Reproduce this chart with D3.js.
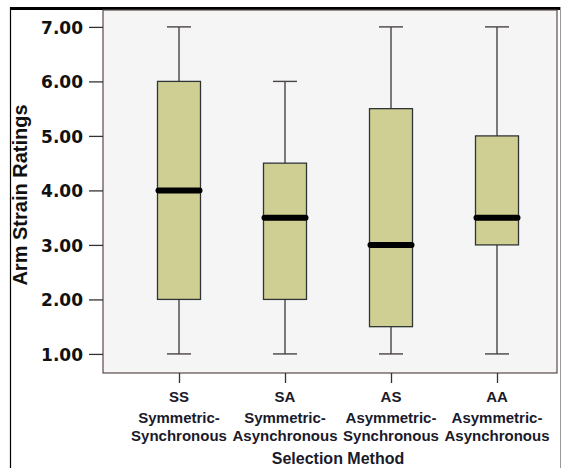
<!DOCTYPE html>
<html>
<head>
<meta charset="utf-8">
<script src="https://cdn.jsdelivr.net/npm/d3@7"></script>
<style>
  body { margin: 0; background: #fff; }
  svg { display: block; }
</style>
</head>
<body>
<div id="chart"></div>
<script>
const codes = ["SS", "SA", "AS", "AA"];
const line1 = ["Symmetric-", "Symmetric-", "Asymmetric-", "Asymmetric-"];
const line2 = ["Synchronous", "Asynchronous", "Synchronous", "Asynchronous"];
const mins = [1, 1, 1, 1];
const q1s = [2, 2, 1.5, 3];
const medians = [4, 3.5, 3, 3.5];
const q3s = [6, 4.5, 5.5, 5];
const maxs = [7, 6, 7, 7];
const yTicks = [1, 2, 3, 4, 5, 6, 7];

const width = 564, height = 468;
const plot = { left: 103, top: 10, right: 557, bottom: 373 };

const boxes = codes.map((c, i) => ({
    code: c, min: mins[i], q1: q1s[i], median: medians[i], q3: q3s[i], max: maxs[i]
}));

const svg = d3.select("#chart").append("svg")
    .attr("width", width)
    .attr("height", height);

// outer frame
svg.append("line").attr("x1", 10).attr("x2", 560).attr("y1", 8.5).attr("y2", 8.5)
    .attr("stroke", "#000").attr("stroke-width", 3);
svg.append("line").attr("x1", 10.5).attr("x2", 10.5).attr("y1", 7).attr("y2", height)
    .attr("stroke", "#000").attr("stroke-width", 1.2);
svg.append("line").attr("x1", 560.5).attr("x2", 560.5).attr("y1", 7).attr("y2", height)
    .attr("stroke", "#999").attr("stroke-width", 1);

const y = d3.scaleLinear()
    .domain([0.65, 7.31])
    .range([plot.bottom, plot.top]);

const x = d3.scalePoint()
    .domain(codes)
    .range([179, 497]);

svg.append("rect")
    .attr("x", plot.left).attr("y", plot.top)
    .attr("width", plot.right - plot.left)
    .attr("height", plot.bottom - plot.top)
    .attr("fill", "#f6f5f5")
    .attr("stroke", "#5a4a48")
    .attr("stroke-width", 1.2);

// y axis
const yAxis = svg.append("g")
    .attr("transform", `translate(${plot.left},0)`)
    .call(d3.axisLeft(y).tickValues(yTicks).tickFormat(d3.format(".2f")).tickSize(14).tickPadding(6));
yAxis.select(".domain").remove();
yAxis.selectAll(".tick line").attr("stroke", "#333").attr("stroke-width", 1.3);
yAxis.selectAll(".tick text")
    .attr("fill", "#111")
    .attr("font-family", "DejaVu Sans, sans-serif")
    .attr("font-weight", "bold")
    .attr("font-size", "17px")
    .attr("dy", "0.36em");

// x axis
const xAxis = svg.append("g")
    .attr("transform", `translate(0,${plot.bottom})`)
    .call(d3.axisBottom(x).tickSize(10).tickFormat(""));
xAxis.select(".domain").remove();
xAxis.selectAll(".tick line").attr("stroke", "#333").attr("stroke-width", 1.3);

const labelFont = "Liberation Sans, Arial, sans-serif";
const xl = svg.append("g").selectAll("text")
    .data(codes)
    .join("text")
    .attr("x", d => x(d))
    .attr("text-anchor", "middle")
    .attr("font-family", labelFont)
    .attr("font-weight", "bold")
    .attr("font-size", "15px")
    .attr("fill", "#1a1a2a");
xl.append("tspan").attr("x", d => x(d)).attr("y", 402).text(d => d);
xl.append("tspan").attr("x", d => x(d)).attr("y", 423).text((d, i) => line1[i]);
xl.append("tspan").attr("x", d => x(d)).attr("y", 441).text((d, i) => line2[i]);

svg.append("text")
    .attr("x", 338).attr("y", 464)
    .attr("text-anchor", "middle")
    .attr("font-family", labelFont)
    .attr("font-weight", "bold")
    .attr("font-size", "16px")
    .attr("fill", "#1a1a2a")
    .text("Selection Method");

svg.append("text")
    .attr("transform", "translate(27,195) rotate(-90)")
    .attr("text-anchor", "middle")
    .attr("font-family", labelFont)
    .attr("font-weight", "bold")
    .attr("font-size", "20px")
    .attr("fill", "#111")
    .text("Arm Strain Ratings");

// boxes
const boxW = 43, capW = 24;
const g = svg.append("g").selectAll("g")
    .data(boxes)
    .join("g")
    .attr("transform", d => `translate(${x(d.code)},0)`);

g.append("line")
    .attr("x1", 0).attr("x2", 0)
    .attr("y1", d => y(d.max)).attr("y2", d => y(d.min))
    .attr("stroke", "#4a4444").attr("stroke-width", 1.4);

g.selectAll(".cap")
    .data(d => [d.min, d.max])
    .join("line")
    .attr("x1", -capW / 2).attr("x2", capW / 2)
    .attr("y1", d => y(d)).attr("y2", d => y(d))
    .attr("stroke", "#4a4444").attr("stroke-width", 1.4);

g.append("rect")
    .attr("x", -boxW / 2)
    .attr("y", d => y(d.q3))
    .attr("width", boxW)
    .attr("height", d => y(d.q1) - y(d.q3))
    .attr("fill", "#cfcf93")
    .attr("stroke", "#2f3535")
    .attr("stroke-width", 1.3);

g.append("line")
    .attr("x1", -boxW / 2 + 1).attr("x2", boxW / 2 - 1)
    .attr("y1", d => y(d.median)).attr("y2", d => y(d.median))
    .attr("stroke", "#000").attr("stroke-width", 6)
    .attr("stroke-linecap", "round");
</script>
</body>
</html>
